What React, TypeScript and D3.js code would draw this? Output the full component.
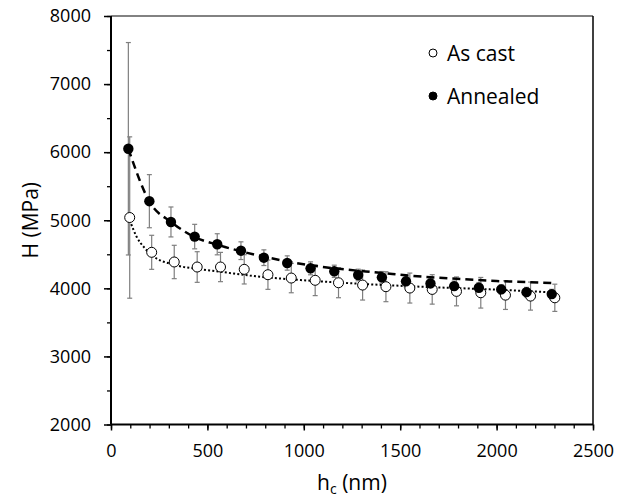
import React, { useRef, useEffect } from "react";
import * as d3 from "d3";

// values
const hcAnnealed = [90, 199, 311, 434, 551, 674, 793, 914, 1035, 1158, 1282, 1405, 1530, 1657, 1780, 1908, 2024, 2155, 2286];
const hAnnealed = [6050, 5280, 4975, 4760, 4647, 4553, 4450, 4372, 4294, 4250, 4196, 4162, 4103, 4072, 4032, 4008, 3984, 3944, 3915];
const errAnnealed = [1560, 390, 220, 180, 155, 130, 115, 105, 95, 90, 85, 85, 80, 80, 75, 75, 70, 70, 70];

const hcAsCast = [97, 211, 328, 447, 568, 691, 814, 935, 1059, 1180, 1305, 1426, 1550, 1666, 1792, 1918, 2046, 2176, 2302];
const hAsCast = [5040, 4529, 4387, 4313, 4313, 4279, 4200, 4151, 4118, 4082, 4048, 4024, 4004, 3984, 3955, 3935, 3900, 3886, 3861];
const errAsCast = [1185, 250, 245, 225, 215, 215, 215, 216, 225, 220, 220, 220, 220, 216, 212, 225, 210, 206, 200];

// fitted trend curves
const fitAnnealedX = [90, 199, 314, 432, 556, 793, 1025, 1171, 1409, 1550, 1758, 1999, 2150, 2290];
const fitAnnealedY = [6050, 5275, 4970, 4755, 4637, 4465, 4343, 4290, 4225, 4185, 4147, 4107, 4093, 4078];
const fitAsCastX = [97, 133, 176, 211, 333, 453, 566, 772, 935, 1602, 1965, 2290];
const fitAsCastY = [5000, 4758, 4588, 4490, 4342, 4284, 4244, 4170, 4132, 4024, 3985, 3941];

const xTicks = [0, 500, 1000, 1500, 2000, 2500];
const yTicks = [2000, 3000, 4000, 5000, 6000, 7000, 8000];
const legendLabels = ["As cast", "Annealed"];

const FONT = "'Open Sans', sans-serif";

function Chart() {
  const svgRef = useRef<SVGSVGElement | null>(null);

  useEffect(() => {
    const svg = d3.select(svgRef.current);
    svg.selectAll("*").remove();

    const x = d3.scaleLinear().domain([0, 2500]).range([111, 593]);
    const y = d3.scaleLinear().domain([2000, 8000]).range([424.5, 16]);

    // frame top + right
    svg.append("line").attr("x1", x(0)).attr("x2", x(2500)).attr("y1", y(8000)).attr("y2", y(8000))
      .attr("stroke", "#595959").attr("stroke-width", 1.5);
    svg.append("line").attr("x1", x(2500)).attr("x2", x(2500)).attr("y1", y(8000)).attr("y2", y(2000))
      .attr("stroke", "#000").attr("stroke-width", 1.5);

    // x axis
    const xAxis = svg.append("g").attr("transform", `translate(0,${y(2000)})`);
    xAxis.call(d3.axisBottom(x).tickValues(d3.range(0, 2501, 100)).tickSize(4).tickFormat(() => ""));
    xAxis.call(g => g.select(".domain").remove());
    xAxis.selectAll(".tick line").attr("stroke-width", 1.3);
    const xMajor = svg.append("g").attr("transform", `translate(0,${y(2000)})`);
    xMajor.call(d3.axisBottom(x).tickValues(xTicks).tickSize(6).tickPadding(14).tickFormat(d3.format("d")));
    xMajor.select(".domain").remove();
    xMajor.selectAll(".tick line").attr("stroke-width", 1.5);
    xMajor.selectAll("text").attr("font-family", FONT).attr("font-size", 18).attr("fill", "#000");

    // y axis
    const yAxis = svg.append("g").attr("transform", `translate(${x(0)},0)`);
    yAxis.call(d3.axisLeft(y).tickValues(d3.range(2000, 8001, 500)).tickSize(4).tickFormat(() => ""));
    yAxis.select(".domain").remove();
    yAxis.selectAll(".tick line").attr("stroke-width", 1.3);
    const yMajor = svg.append("g").attr("transform", `translate(${x(0)},0)`);
    yMajor.call(d3.axisLeft(y).tickValues(yTicks).tickSize(7).tickPadding(13).tickFormat(d3.format("d")));
    yMajor.select(".domain").remove();
    yMajor.selectAll(".tick line").attr("stroke-width", 1.5);
    yMajor.selectAll("text").attr("font-family", FONT).attr("font-size", 18).attr("fill", "#000");

    // axis lines
    svg.append("line").attr("x1", x(0)).attr("x2", x(2500)).attr("y1", y(2000)).attr("y2", y(2000))
      .attr("stroke", "#000").attr("stroke-width", 2);
    svg.append("line").attr("x1", x(0)).attr("x2", x(0)).attr("y1", y(8000)).attr("y2", y(2000))
      .attr("stroke", "#000").attr("stroke-width", 2);

    // error bars
    const drawErr = (xs: number[], ys: number[], es: number[]) => {
      const g = svg.append("g").attr("stroke", "#7f7f7f").attr("stroke-width", 1.2);
      xs.forEach((v, i) => {
        const cx = x(v);
        const top = y(ys[i] + es[i]);
        const bot = y(ys[i] - es[i]);
        g.append("line").attr("x1", cx).attr("x2", cx).attr("y1", top).attr("y2", bot);
        g.append("line").attr("x1", cx - 2.5).attr("x2", cx + 2.5).attr("y1", top).attr("y2", top);
        g.append("line").attr("x1", cx - 2.5).attr("x2", cx + 2.5).attr("y1", bot).attr("y2", bot);
      });
    };
    drawErr(hcAsCast, hAsCast, errAsCast);
    drawErr(hcAnnealed, hAnnealed, errAnnealed);

    // trend lines
    const line = d3.line<number>().curve(d3.curveMonotoneX);
    svg.append("path")
      .attr("d", line.x(d => x(d)).y((d, i) => y(fitAsCastY[i]))(fitAsCastX))
      .attr("fill", "none").attr("stroke", "#000").attr("stroke-width", 2)
      .attr("stroke-dasharray", "2 2.2");
    svg.append("path")
      .attr("d", line.x(d => x(d)).y((d, i) => y(fitAnnealedY[i]))(fitAnnealedX))
      .attr("fill", "none").attr("stroke", "#000").attr("stroke-width", 2.5)
      .attr("stroke-dasharray", "8 5");

    // markers
    svg.append("g").selectAll("circle").data(hcAsCast).join("circle")
      .attr("cx", d => x(d)).attr("cy", (d, i) => y(hAsCast[i])).attr("r", 5)
      .attr("fill", "#fff").attr("stroke", "#000").attr("stroke-width", 1);
    svg.append("g").selectAll("circle").data(hcAnnealed).join("circle")
      .attr("cx", d => x(d)).attr("cy", (d, i) => y(hAnnealed[i])).attr("r", 5.2)
      .attr("fill", "#000");

    // legend
    const leg = svg.append("g");
    legendLabels.forEach((lab, i) => {
      const cy = 53 + i * 43;
      leg.append("circle").attr("cx", 433).attr("cy", cy).attr("r", 4)
        .attr("fill", i === 0 ? "#fff" : "#000").attr("stroke", "#000").attr("stroke-width", 1);
      leg.append("text").attr("x", 447).attr("y", cy).attr("dy", "0.36em")
        .attr("font-family", FONT).attr("font-size", 21).text(lab);
    });

    // axis titles
    svg.append("text").attr("transform", `translate(38,${(y(8000) + y(2000)) / 2}) rotate(-90)`)
      .attr("text-anchor", "middle").attr("font-family", FONT).attr("font-size", 21).text("H (MPa)");
    const xt = svg.append("text").attr("x", (x(0) + x(2500)) / 2).attr("y", 490)
      .attr("text-anchor", "middle").attr("font-family", FONT).attr("font-size", 21);
    xt.append("tspan").text("h");
    xt.append("tspan").attr("font-size", 14).attr("dy", 4).text("c");
    xt.append("tspan").attr("dy", -4).text(" (nm)");
  }, []);

  return (
    <svg ref={svgRef} width={627} height={499}
      style={{ position: "absolute", left: 0, top: 0, background: "#fff" }} />
  );
}

export default function App() {
  return <Chart />;
}
